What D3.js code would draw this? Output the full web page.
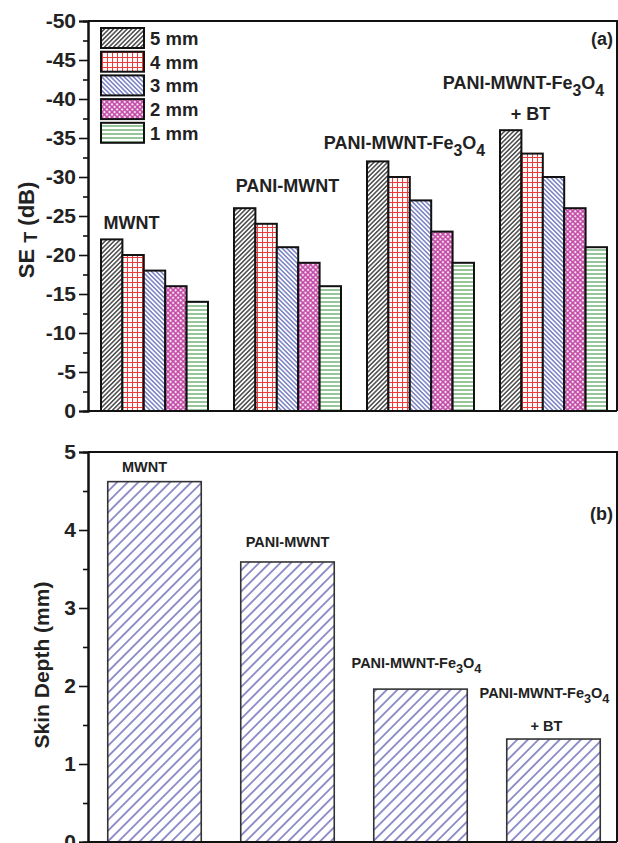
<!DOCTYPE html>
<html>
<head>
<meta charset="utf-8">
<script src="https://cdn.jsdelivr.net/npm/d3@7"></script>
<style>
  body { margin: 0; background: #fff; }
  svg text { font-family: "Liberation Sans", Arial, sans-serif; font-weight: bold; fill: #222; }
</style>
</head>
<body>
<div id="chart"></div>
<script>
// samples (x categories)
var samples = ["MWNT", "PANI-MWNT", "PANI-MWNT-Fe3O4", "PANI-MWNT-Fe3O4 + BT"];
// thickness series (legend)
var thickness = ["5 mm", "4 mm", "3 mm", "2 mm", "1 mm"];
// total shielding effectiveness (dB), one array per thickness
var se5mm = [-22, -26, -32, -36];
var se4mm = [-20, -24, -30, -33];
var se3mm = [-18, -21, -27, -30];
var se2mm = [-16, -19, -23, -26];
var se1mm = [-14, -16, -19, -21];
// skin depth (mm)
var skinDepth = [4.62, 3.59, 1.96, 1.32];
// tick values
var seTicks = [0, -5, -10, -15, -20, -25, -30, -35, -40, -45, -50];
var seMinor = [-2.5, -7.5, -12.5, -17.5, -22.5, -27.5, -32.5, -37.5, -42.5, -47.5];
var skinTicks = [0, 1, 2, 3, 4, 5];
var skinMinor = [0.5, 1.5, 2.5, 3.5, 4.5];

var seSeries = [se5mm, se4mm, se3mm, se2mm, se1mm];

var W = 618, H = 843;
var left = 88, right = 617;

var svg = d3.select("#chart").append("svg")
	.attr("width", W)
	.attr("height", H);

// ---- patterns
var defs = svg.append("defs");

function linePattern(id, size, angle, color, sw) {
	var p = defs.append("pattern")
		.attr("id", id)
		.attr("patternUnits", "userSpaceOnUse")
		.attr("width", size)
		.attr("height", size)
		.attr("patternTransform", "rotate(" + angle + ")");
	p.append("rect").attr("width", size).attr("height", size).attr("fill", "#fff");
	p.append("line")
		.attr("x1", size / 2).attr("y1", 0)
		.attr("x2", size / 2).attr("y2", size)
		.attr("stroke", color)
		.attr("stroke-width", sw);
}

linePattern("p5", 3.2, 45, "#1a1a1a", 1.2);
linePattern("p3", 3.2, -45, "#4652b0", 1.1);
linePattern("p1", 4, 90, "#4f9f55", 1.2);
linePattern("pskin", 7.5, 45, "#3c3ca4", 1.1);

var grid = defs.append("pattern")
	.attr("id", "p4")
	.attr("patternUnits", "userSpaceOnUse")
	.attr("width", 5).attr("height", 5);
grid.append("rect").attr("width", 5).attr("height", 5).attr("fill", "#fff");
grid.append("path")
	.attr("d", "M2.5,0V5M0,2.5H5")
	.attr("stroke", "#ee3a3a")
	.attr("stroke-width", 1);

var dots = defs.append("pattern")
	.attr("id", "p2")
	.attr("patternUnits", "userSpaceOnUse")
	.attr("width", 3.6).attr("height", 3.6)
	.attr("patternTransform", "rotate(45)");
dots.append("rect").attr("width", 3.6).attr("height", 3.6).attr("fill", "#c24aa6");
dots.append("circle").attr("cx", 1.8).attr("cy", 1.8).attr("r", 1.2).attr("fill", "#fbe6f4");

var fills = ["url(#p5)", "url(#p4)", "url(#p3)", "url(#p2)", "url(#p1)"];

// ---- scales
var x = d3.scaleBand().domain(samples).range([left, 620]).padding(0);
var xIn = d3.scaleBand().domain(thickness).range([-53.5, 53.5]).padding(0);
var yTop = d3.scaleLinear().domain([0, -50]).range([411, 21]);
var yBot = d3.scaleLinear().domain([0, 5]).range([842, 452]);

function fmt(d) { return String(d); }

function styleAxis(g) {
	g.select(".domain").attr("stroke", "#111").attr("stroke-width", 2);
	g.selectAll(".tick line").attr("stroke", "#111").attr("stroke-width", 1.6);
	g.selectAll(".tick text").style("font-size", "21px").attr("fill", "#222")
		.style("font-weight", "bold");
}

// chemical label with subscripts: parts [text, isSub]
function chem(g, cx, y, size, parts) {
	var t = g.append("text")
		.attr("x", cx).attr("y", y)
		.attr("text-anchor", "middle")
		.attr("font-size", size);
	var down = false;
	parts.forEach(function(p) {
		var s = t.append("tspan").text(p[0]);
		if (p[1] && !down) { s.attr("dy", size * 0.35).attr("font-size", size * 0.88); down = true; }
		else if (p[1]) { s.attr("font-size", size * 0.88); }
		else if (down) { s.attr("dy", -size * 0.35); down = false; }
	});
	return t;
}
var fe3o4 = [["PANI-MWNT-Fe", false], ["3", true], ["O", false], ["4", true]];

// ================= panel (a)
var ga = svg.append("g");

samples.forEach(function(s, i) {
	var cx = x(s) + x.bandwidth() / 2;
	thickness.forEach(function(t, k) {
		var v = seSeries[k][i];
		ga.append("rect")
			.attr("x", cx + xIn(t))
			.attr("y", yTop(v))
			.attr("width", xIn.bandwidth())
			.attr("height", yTop(0) - yTop(v))
			.attr("fill", fills[k])
			.attr("stroke", "#111")
			.attr("stroke-width", 2);
	});
});

// frame
ga.append("path")
	.attr("d", "M" + left + "," + yTop(-50) + "H" + right + "V" + yTop(0))
	.attr("fill", "none").attr("stroke", "#111").attr("stroke-width", 2);
ga.append("line")
	.attr("x1", left).attr("x2", right).attr("y1", yTop(0)).attr("y2", yTop(0))
	.attr("stroke", "#111").attr("stroke-width", 2);

ga.append("g")
	.attr("transform", "translate(" + left + ",0)")
	.call(d3.axisLeft(yTop).tickValues(seMinor).tickSize(5).tickFormat(""))
	.call(styleAxis);
ga.append("g")
	.attr("transform", "translate(" + left + ",0)")
	.call(d3.axisLeft(yTop).tickValues(seTicks).tickSize(9).tickPadding(3).tickFormat(fmt))
	.call(styleAxis);

// axis title SE_T (dB)
var ta = ga.append("text")
	.attr("transform", "translate(34," + 230 + ") rotate(-90)")
	.attr("text-anchor", "middle")
	.attr("font-size", 22);
ta.append("tspan").text("SE ");
ta.append("tspan").text("T").attr("font-size", 18).attr("dy", 3);
ta.append("tspan").text(" (dB)").attr("dy", -3);

// legend
thickness.forEach(function(t, k) {
	var ly = 28 + k * 23.7;
	ga.append("rect")
		.attr("x", 101).attr("y", ly)
		.attr("width", 43).attr("height", 20)
		.attr("fill", fills[k])
		.attr("stroke", "#111").attr("stroke-width", 2);
	ga.append("text")
		.attr("x", 150).attr("y", ly + 17)
		.attr("font-size", 18.5)
		.text(t);
});

ga.append("text").attr("x", 613).attr("y", 45).attr("text-anchor", "end")
	.attr("font-size", 18).text("(a)");

// group labels
function gcx(i) { return x(samples[i]) + x.bandwidth() / 2; }
chem(ga, gcx(0) - 23, yTop(se5mm[0]) - 10, 18, [["MWNT", false]]);
chem(ga, gcx(1), yTop(se5mm[1]) - 16, 18, [["PANI-MWNT", false]]);
chem(ga, gcx(2) - 16, yTop(se5mm[2]) - 12, 18, fe3o4);
chem(ga, gcx(3) - 30, yTop(se5mm[3]) - 41, 18, fe3o4);
chem(ga, gcx(3) - 23, yTop(se5mm[3]) - 10, 18, [["+ BT", false]]);

// ================= panel (b)
var gb = svg.append("g");
var bw = 93.5;

samples.forEach(function(s, i) {
	var cx = x(s) + x.bandwidth() / 2;
	gb.append("rect")
		.attr("x", cx - bw / 2)
		.attr("y", yBot(skinDepth[i]))
		.attr("width", bw)
		.attr("height", yBot(0) - yBot(skinDepth[i]))
		.attr("fill", "url(#pskin)")
		.attr("stroke", "#333")
		.attr("stroke-width", 1.6);
});

gb.append("path")
	.attr("d", "M" + left + "," + yBot(5) + "H" + right + "V" + yBot(0))
	.attr("fill", "none").attr("stroke", "#111").attr("stroke-width", 2);
gb.append("line")
	.attr("x1", left).attr("x2", right).attr("y1", yBot(0)).attr("y2", yBot(0))
	.attr("stroke", "#111").attr("stroke-width", 2);

gb.append("g")
	.attr("transform", "translate(" + left + ",0)")
	.call(d3.axisLeft(yBot).tickValues(skinMinor).tickSize(5).tickFormat(""))
	.call(styleAxis);
gb.append("g")
	.attr("transform", "translate(" + left + ",0)")
	.call(d3.axisLeft(yBot).tickValues(skinTicks).tickSize(9).tickPadding(3).tickFormat(fmt))
	.call(styleAxis);

gb.append("text")
	.attr("transform", "translate(49,665) rotate(-90)")
	.attr("text-anchor", "middle")
	.attr("font-size", 21)
	.text("Skin Depth (mm)");

gb.append("text").attr("x", 613).attr("y", 520).attr("text-anchor", "end")
	.attr("font-size", 18).text("(b)");

chem(gb, gcx(0) - 10, yBot(skinDepth[0]) - 10, 14.5, [["MWNT", false]]);
chem(gb, gcx(1), yBot(skinDepth[1]) - 15, 14.5, [["PANI-MWNT", false]]);
chem(gb, gcx(2) - 4, yBot(skinDepth[2]) - 21, 14.5, fe3o4);
chem(gb, gcx(3) - 9, yBot(skinDepth[3]) - 41, 14.5, fe3o4);
chem(gb, gcx(3) - 7, yBot(skinDepth[3]) - 8, 14.5, [["+ BT", false]]);
</script>
</body>
</html>
